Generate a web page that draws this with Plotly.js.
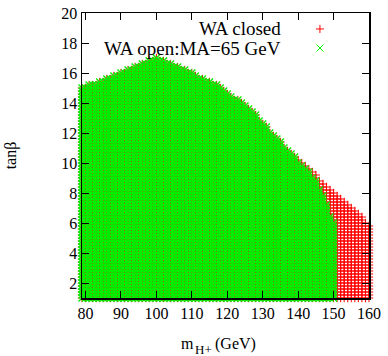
<!DOCTYPE html>
<html><head><meta charset="utf-8">
<script src="https://cdn.plot.ly/plotly-3.0.1.min.js"></script>
<style>html,body{margin:0;padding:0;background:#fff}#chart{width:388px;height:356px}</style>
</head><body><div id="chart"></div>
<script>
// Charged Higgs mass scan points (GeV)
const mHp = [79,80,81,82,83,84,85,86,87,88,89,90,91,92,93,94,95,96,97,98,99,100,
  101,102,103,104,105,106,107,108,109,110,111,112,113,114,115,116,117,118,119,120,
  121,122,123,124,125,126,127,128,129,130,131,132,133,134,135,136,137,138,139,140,
  141,142,143,144,145,146,147,148,149,150,151,152,153,154,155,156,157,158,159,160];

// Largest allowed tanβ at each mass: WA open, MA = 65 GeV (79..150 GeV)
const openTop = [15.0,15.1,15.2,15.3,15.3,15.4,15.5,15.6,15.7,15.8,
  15.9,16.0,16.1,16.2,16.3,16.4,16.5,16.6,16.7,16.8,
  16.9,17.0,16.9,16.8,16.7,16.6,16.5,16.4,16.3,16.2,
  16.1,16.0,15.8,15.7,15.6,15.5,15.4,15.3,15.2,15.1,
  14.9,14.7,14.5,14.3,14.2,14.0,13.8,13.6,13.4,13.2,
  12.9,12.6,12.4,12.1,11.9,11.6,11.4,11.1,10.9,10.7,
  10.4,10.1,9.9,9.7,9.4,9.1,8.8,8.3,7.8,7.2,
  6.5,6.0];

// Largest allowed tanβ at each mass: WA closed (79..160 GeV)
const closedTop = [15.0,15.1,15.2,15.3,15.3,15.4,15.5,15.6,15.7,15.8,
  15.9,16.0,16.1,16.2,16.3,16.4,16.5,16.6,16.7,16.8,
  16.9,17.0,16.9,16.8,16.7,16.6,16.5,16.4,16.3,16.2,
  16.1,16.0,15.8,15.7,15.6,15.5,15.4,15.3,15.2,15.1,
  14.9,14.7,14.5,14.3,14.2,14.0,13.8,13.6,13.4,13.2,
  12.9,12.6,12.4,12.1,11.9,11.6,11.4,11.1,10.9,10.7,
  10.5,10.3,10.1,9.9,9.7,9.4,9.2,8.9,8.7,8.5,
  8.3,8.1,7.9,7.7,7.5,7.3,7.1,6.9,6.6,6.4,6.1,5.9];

// tanβ scan grid
const tanbMin = 1;
const tanbStep = 0.2;

const xTicks = [80,90,100,110,120,130,140,150,160];
const yTicks = [2,4,6,8,10,12,14,16,18,20];

// Expand each column of the scan up to its allowed tanβ
function scanPoints(tops) {
  const xs = [], ys = [];
  tops.forEach((top, i) => {
    for (let k = 0; ; k++) {
      const t = tanbMin + k * tanbStep;
      if (t > top + 1e-9) break;
      xs.push(mHp[i]);
      ys.push(+t.toFixed(2));
    }
  });
  return {xs, ys};
}

const closed = scanPoints(closedTop);
const open = scanPoints(openTop);

const font = 'Liberation Serif, Times New Roman, serif';

const traces = [
  {type: 'scatter', mode: 'markers', name: 'WA closed',
   x: closed.xs, y: closed.ys, cliponaxis: false,
   marker: {symbol: 'cross-thin-open', size: 6, color: '#ff0000', line: {color: '#ff0000', width: 1}}},
  {type: 'scatter', mode: 'markers', name: 'WA open:MA=65 GeV',
   x: open.xs, y: open.ys, cliponaxis: false,
   marker: {symbol: 'x-thin-open', size: 7, color: '#00ee00', line: {color: '#00ee00', width: 1.4}}}
];

const axisCommon = {
  showgrid: false, zeroline: false, showline: true, linecolor: '#000', linewidth: 1.5,
  mirror: 'ticks', ticks: 'inside', ticklen: 7, tickwidth: 1, tickcolor: '#000',
  tickfont: {family: font, size: 16, color: '#000'}
};

// Key placed top right: text right-aligned, symbol to its right
const keyText = 0.700, keySym = 0.829, keyY1 = 0.944, keyY2 = 0.877;
const keyFont = {family: font, size: 19, color: '#000'};
const titleFont = {family: font, size: 16, color: '#000'};
const subFont = {family: font, size: 13, color: '#000'};

const layout = {
  width: 388, height: 356,
  margin: {l: 82, r: 19, t: 13, b: 58},
  paper_bgcolor: '#fff', plot_bgcolor: '#fff',
  showlegend: false,
  font: {family: font, color: '#000'},
  xaxis: Object.assign({}, axisCommon, {range: [79, 160], tickvals: xTicks}),
  yaxis: Object.assign({}, axisCommon, {
    range: [1, 20], tickvals: yTicks,
    title: {text: 'tanβ', font: titleFont, standoff: 40}
  }),
  annotations: [
    {xref: 'paper', yref: 'paper', x: keyText, y: keyY1, xanchor: 'right', yanchor: 'middle',
     text: 'WA closed', showarrow: false, font: keyFont},
    {xref: 'paper', yref: 'paper', x: keyText, y: keyY2, xanchor: 'right', yanchor: 'middle',
     text: 'WA open:MA=65 GeV', showarrow: false, font: keyFont},
    // x-axis title: mass symbol, its subscript, then the unit
    {xref: 'paper', yref: 'paper', x: 0.398, y: -0.123, xanchor: 'right', yanchor: 'top',
     text: 'm', showarrow: false, font: titleFont},
    {xref: 'paper', yref: 'paper', x: 0.386, y: -0.147, xanchor: 'left', yanchor: 'top',
     text: 'H+', showarrow: false, font: subFont},
    {xref: 'paper', yref: 'paper', x: 0.457, y: -0.123, xanchor: 'left', yanchor: 'top',
     text: '(GeV)', showarrow: false, font: titleFont}
  ],
  shapes: [
    {type: 'path', xref: 'paper', yref: 'paper', xsizemode: 'pixel', ysizemode: 'pixel',
     xanchor: keySym, yanchor: keyY1, path: 'M-4,0 L4,0 M0,-4 L0,4',
     line: {color: '#ff0000', width: 1}},
    {type: 'path', xref: 'paper', yref: 'paper', xsizemode: 'pixel', ysizemode: 'pixel',
     xanchor: keySym, yanchor: keyY2, path: 'M-3.5,-3.5 L3.5,3.5 M-3.5,3.5 L3.5,-3.5',
     line: {color: '#00ee00', width: 1}}
  ]
};

Plotly.newPlot('chart', traces, layout, {displayModeBar: false, staticPlot: true});
</script>
</body></html>
